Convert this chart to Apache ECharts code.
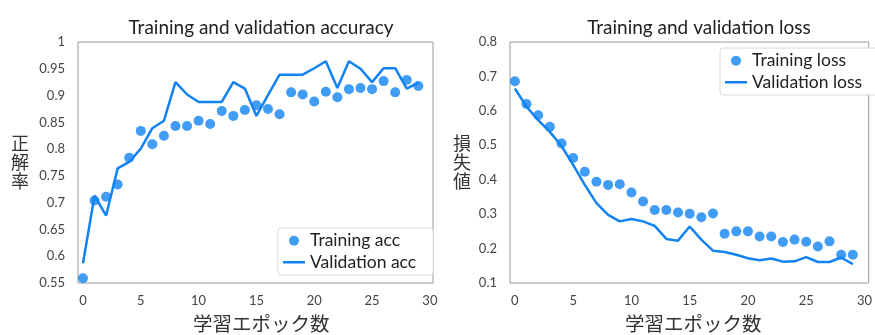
<!DOCTYPE html>
<html>
<head>
<meta charset="utf-8">
<script src="https://cdn.jsdelivr.net/npm/echarts@6/dist/echarts.min.js"></script>
<style>
html,body{margin:0;padding:0;background:#fff;}
#chart{width:875px;height:335px;}
</style>
</head>
<body>
<div id="chart"></div>
<script>
const epochs = [0,1,2,3,4,5,6,7,8,9,10,11,12,13,14,15,16,17,18,19,20,21,22,23,24,25,26,27,28,29];
const xTicks = [0,5,10,15,20,25,30];
const trainAcc = [0.559,0.704,0.711,0.734,0.784,0.834,0.809,0.825,0.843,0.843,0.853,0.847,0.871,0.862,0.873,0.882,0.875,0.865,0.906,0.902,0.889,0.907,0.897,0.912,0.914,0.912,0.927,0.906,0.929,0.918];
const valAcc = [0.587,0.713,0.676,0.764,0.776,0.801,0.839,0.853,0.925,0.902,0.888,0.888,0.888,0.925,0.913,0.862,0.901,0.939,0.939,0.939,0.951,0.964,0.914,0.964,0.950,0.925,0.951,0.951,0.913,0.924];
const trainLoss = [0.686,0.620,0.587,0.554,0.505,0.463,0.423,0.394,0.385,0.387,0.363,0.337,0.312,0.312,0.305,0.301,0.291,0.302,0.243,0.250,0.250,0.235,0.235,0.219,0.226,0.220,0.206,0.221,0.182,0.182];
const valLoss = [0.665,0.612,0.573,0.539,0.498,0.443,0.385,0.332,0.298,0.279,0.286,0.279,0.266,0.228,0.223,0.264,0.226,0.194,0.190,0.182,0.172,0.166,0.171,0.162,0.163,0.175,0.161,0.161,0.174,0.155];

const BLUE = '#1283f2';
const FONT = "Lato, 'Noto Sans CJK JP', sans-serif";
const CJK = "'Noto Sans CJK JP', sans-serif";
const pair = (ys) => epochs.map((e, i) => [e, ys[i]]);
const fmt = (v) => String(parseFloat(v.toFixed(2)));

const chart = echarts.init(document.getElementById('chart'));

const xAxisBase = (gi, min, max) => ({
  gridIndex: gi, type: 'value', min: min, max: max,
  axisLine: {show: false}, axisTick: {show: false}, splitLine: {show: false},
  axisLabel: {customValues: xTicks, margin: 11, fontFamily: FONT, fontSize: 13, color: '#444'}
});
const yAxisBase = (gi, min, max, interval) => ({
  gridIndex: gi, type: 'value', min: min, max: max, interval: interval,
  axisLine: {show: false}, axisTick: {show: false}, splitLine: {show: false},
  axisLabel: {formatter: fmt, margin: 13, fontFamily: FONT, fontSize: 13, color: '#444'}
});
const legendBase = (left, top, names) => ({
  orient: 'vertical', left: left, top: top,
  backgroundColor: '#fff', borderColor: '#d8d8d8', borderWidth: 1, borderRadius: 3,
  padding: [4, 17, 4, 5], itemGap: 4, itemWidth: 22, itemHeight: 10,
  textStyle: {fontFamily: FONT, fontSize: 17.5, color: '#222'},
  data: [
    {name: names[0], icon: 'circle'},
    {name: names[1], icon: 'path://M0,0 L22,0 L22,2.5 L0,2.5 Z'}
  ]
});

chart.setOption({
  backgroundColor: '#fff',
  animation: false,
  title: [
    {text: 'Training and validation accuracy', left: 256, top: 13, textAlign: 'center',
     textStyle: {fontFamily: FONT, fontSize: 19, fontWeight: 'normal', color: '#222'}},
    {text: 'Training and validation loss', left: 694, top: 13, textAlign: 'center',
     textStyle: {fontFamily: FONT, fontSize: 19, fontWeight: 'normal', color: '#222'}}
  ],
  grid: [
    {left: 78, top: 42, width: 355, height: 241, show: true, borderColor: '#9a9a9a', borderWidth: 1, backgroundColor: 'transparent'},
    {left: 510, top: 42, width: 363, height: 241, show: true, borderColor: '#9a9a9a', borderWidth: 1, backgroundColor: 'transparent'}
  ],
  xAxis: [xAxisBase(0, -0.43, 30.27), xAxisBase(1, -0.42, 30.36)],
  yAxis: [yAxisBase(0, 0.55, 1.0, 0.05), yAxisBase(1, 0.1, 0.8, 0.1)],
  legend: [
    legendBase(278, 228, ['Training acc', 'Validation acc']),
    legendBase(720, 48, ['Training loss', 'Validation loss'])
  ],
  graphic: [
    {type: 'text', left: 11, top: 134, style: {text: '正\n解\n率', font: '18px ' + CJK, fill: '#333', lineHeight: 19, align: 'center'}},
    {type: 'text', left: 453, top: 134, style: {text: '損\n失\n値', font: '18px ' + CJK, fill: '#333', lineHeight: 19, align: 'center'}},
    {type: 'text', left: 193, top: 314, style: {text: '学習エポック数', font: '19.5px ' + CJK, fill: '#333'}},
    {type: 'text', left: 625, top: 314, style: {text: '学習エポック数', font: '19.5px ' + CJK, fill: '#333'}}
  ],
  series: [
    {name: 'Training acc', type: 'scatter', xAxisIndex: 0, yAxisIndex: 0, data: pair(trainAcc),
     symbolSize: 10, itemStyle: {color: BLUE}},
    {name: 'Validation acc', type: 'line', xAxisIndex: 0, yAxisIndex: 0, data: pair(valAcc),
     showSymbol: false, symbol: 'none', lineStyle: {color: BLUE, width: 2.5}, itemStyle: {color: BLUE}},
    {name: 'Training loss', type: 'scatter', xAxisIndex: 1, yAxisIndex: 1, data: pair(trainLoss),
     symbolSize: 10, itemStyle: {color: BLUE}},
    {name: 'Validation loss', type: 'line', xAxisIndex: 1, yAxisIndex: 1, data: pair(valLoss),
     showSymbol: false, symbol: 'none', lineStyle: {color: BLUE, width: 2.5}, itemStyle: {color: BLUE}}
  ]
});
</script>
</body>
</html>
